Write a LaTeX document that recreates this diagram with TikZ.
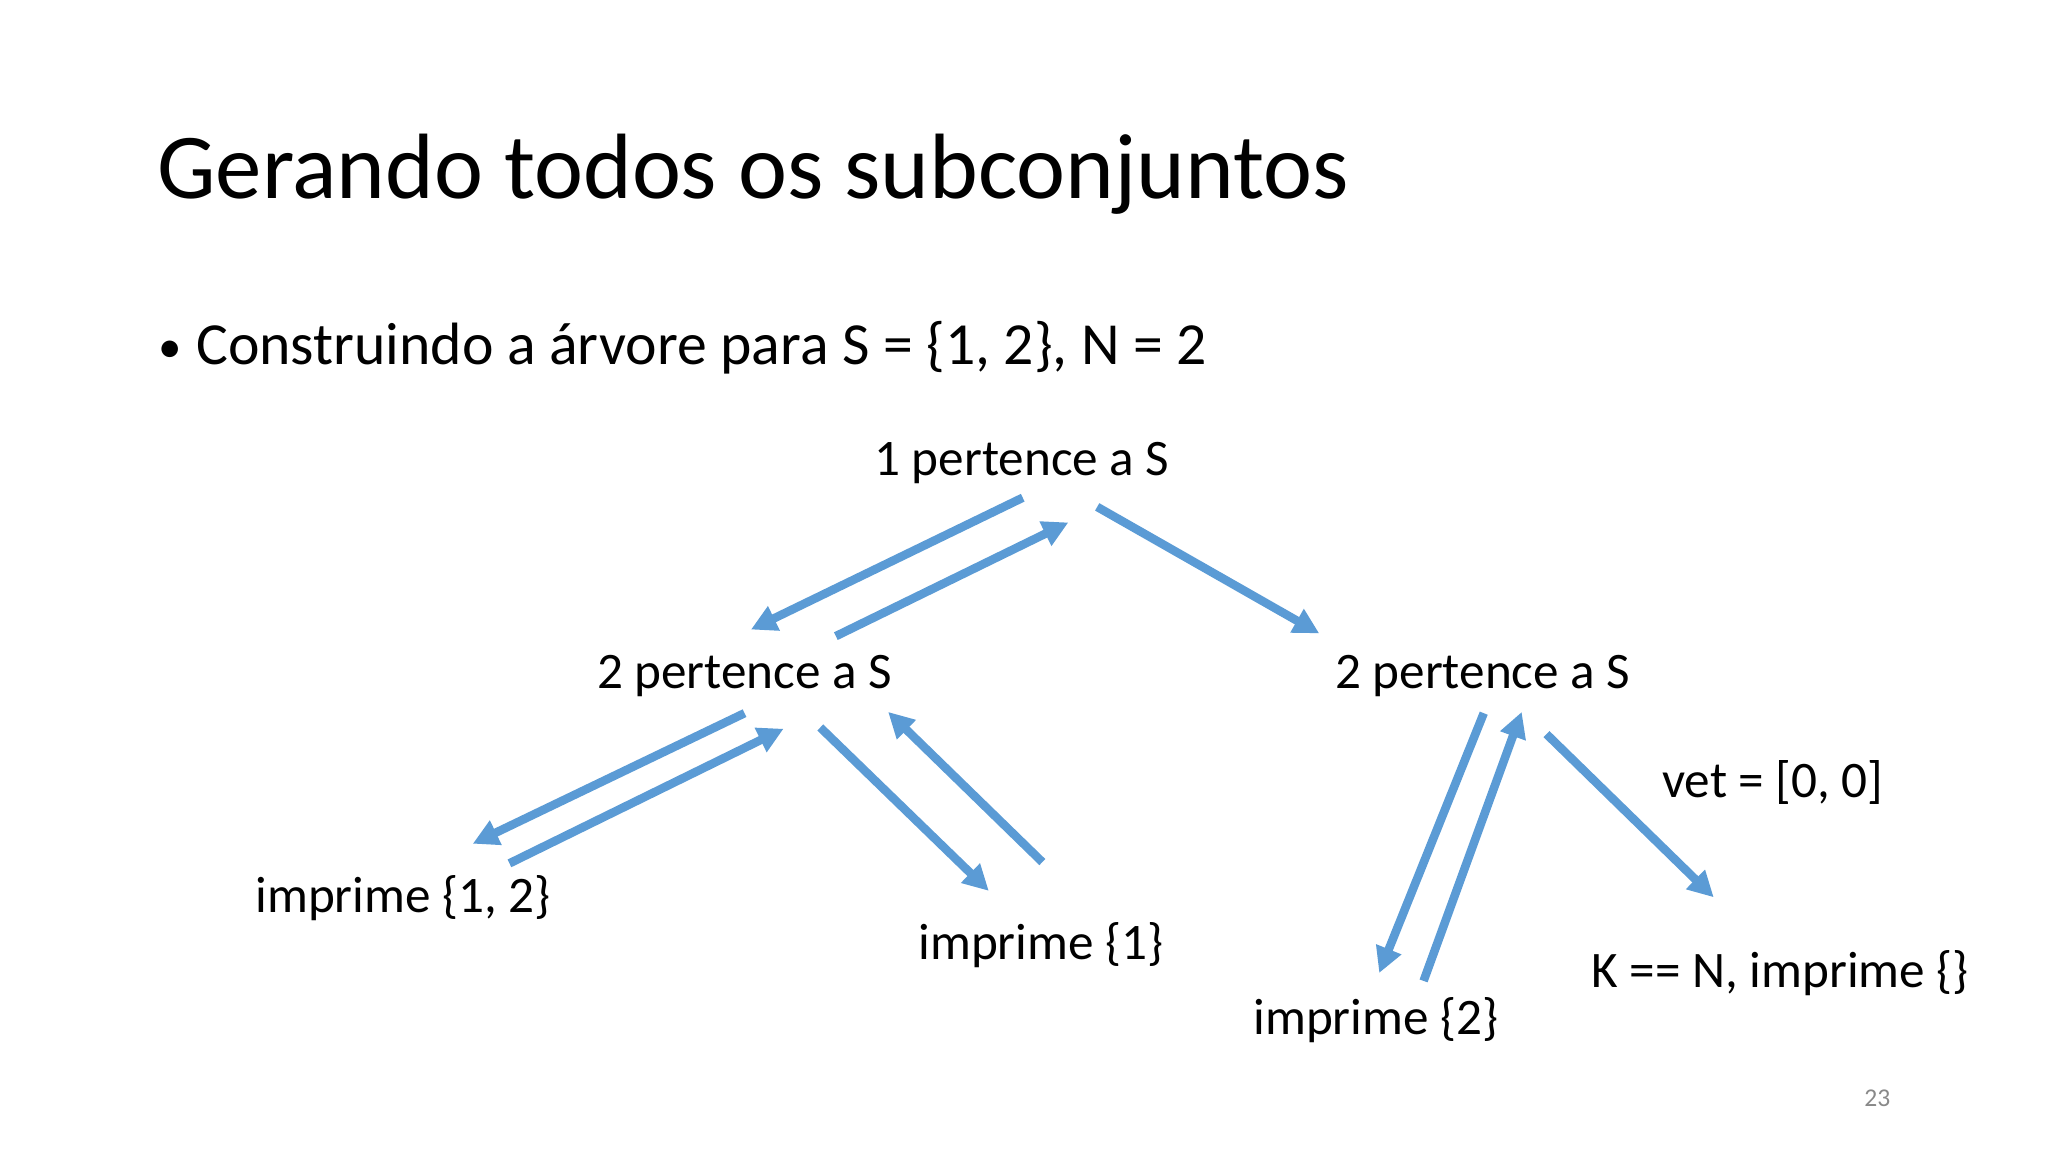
\documentclass[tikz,border=0pt]{standalone}
\usepackage{fontspec}
\setmainfont{Carlito}
\usepackage{tikz}
\usetikzlibrary{arrows.meta}
\definecolor{flowblue}{HTML}{5B9BD5}
\definecolor{pagegray}{HTML}{898989}

\begin{document}
\begin{tikzpicture}[
                x=1pt, y=-1pt,
                lbl/.style={inner sep=0pt, font=\fontsize{24}{28}\selectfont},
                flow/.style={draw=flowblue, line width=4pt, -{Triangle[length=12pt, width=12pt]}}
            ]
                \useasboundingbox (0,0) rectangle (960,540);

                \node[anchor=base west, inner sep=0pt, font=\fontsize{43.5}{52}\selectfont] (title) at (73.5,93) {Gerando todos os subconjuntos};
                \node[anchor=base west, inner sep=0pt, font=\fontsize{22}{26}\selectfont] (bullet) at (74,170) {\textbullet};
                \node[anchor=base west, inner sep=0pt, font=\fontsize{28}{34}\selectfont] (intro) at (91.8,171) {Construindo a árvore para S = \{1, 2\}, N = 2};

                \node[lbl] (root) at (479,217) {1 pertence a S};
                \node[lbl] (left) at (349,317) {2 pertence a S};
                \node[lbl] (right) at (695,317) {2 pertence a S};
                \node[lbl] (both) at (189,421) {imprime \{1, 2\}};
                \node[lbl] (one) at (488,443) {imprime \{1\}};
                \node[lbl] (two) at (645,478) {imprime \{2\}};
                \node[lbl] (empty) at (834.5,456) {K == N, imprime \{\}};
                \node[lbl] (vet) at (831,367) {vet = [0, 0]};
                \node[inner sep=0pt, font=\fontsize{12}{14}\selectfont, text=pagegray] (page) at (880,515) {23};

                % arrow ends
                \coordinate (r-a) at (479.4,233.3);  \coordinate (l-a) at (352.0,295.1);
                \coordinate (l-b) at (391.8,298.2);  \coordinate (r-b) at (500.8,244.9);
                \coordinate (r-c) at (514.3,237.6);  \coordinate (q-c) at (618.4,296.9);
                \coordinate (l-d) at (349.0,334.3);  \coordinate (b-d) at (221.6,395.5);
                \coordinate (b-e) at (238.8,404.7);  \coordinate (l-e) at (367.3,341.6);
                \coordinate (l-f) at (384.5,341.0);  \coordinate (o-f) at (463.5,417.6);
                \coordinate (o-g) at (488.6,404.1);  \coordinate (l-g) at (416.3,333.7);
                \coordinate (q-h) at (695.5,334.3);  \coordinate (t-h) at (646.5,456.1);
                \coordinate (t-i) at (667.3,459.8);  \coordinate (q-i) at (713.3,333.7);
                \coordinate (q-j) at (724.9,344.1);  \coordinate (e-j) at (803.3,420.6);

                \draw[flow] (r-a) -- (l-a);
                \draw[flow] (l-b) -- (r-b);
                \draw[flow] (r-c) -- (q-c);
                \draw[flow] (l-d) -- (b-d);
                \draw[flow] (b-e) -- (l-e);
                \draw[flow] (l-f) -- (o-f);
                \draw[flow] (o-g) -- (l-g);
                \draw[flow] (q-h) -- (t-h);
                \draw[flow] (t-i) -- (q-i);
                \draw[flow] (q-j) -- (e-j);
            \end{tikzpicture}
\end{document}
